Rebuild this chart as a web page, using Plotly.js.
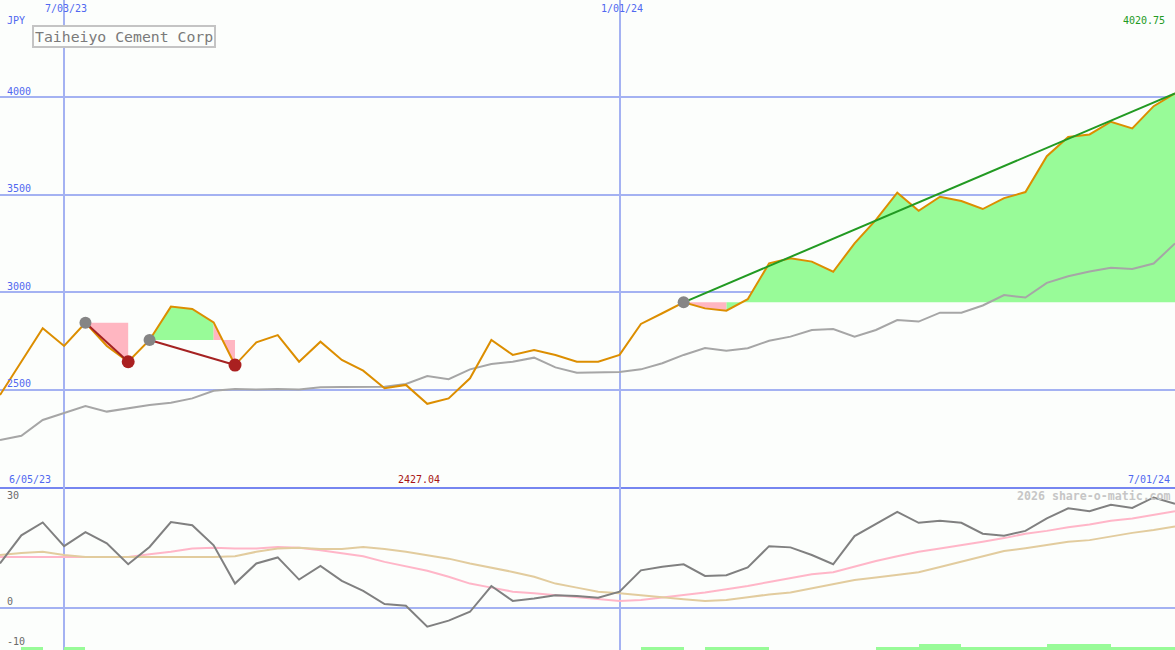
<!DOCTYPE html>
<html><head><meta charset="utf-8">
<script src="https://cdn.plot.ly/plotly-3.0.1.min.js"></script>
<style>html,body{margin:0;padding:0;background:#fcfefc;} #chart{width:1175px;height:650px;}</style>
</head><body><div id="chart"></div>
<script>
// ---------- data ----------
const dates = ['2023-06-12','2023-06-19','2023-06-26','2023-07-03','2023-07-10','2023-07-17','2023-07-24','2023-07-31',
 '2023-08-07','2023-08-14','2023-08-21','2023-08-28','2023-09-04','2023-09-11','2023-09-18','2023-09-25',
 '2023-10-02','2023-10-09','2023-10-16','2023-10-23','2023-10-30','2023-11-06','2023-11-13','2023-11-20','2023-11-27',
 '2023-12-04','2023-12-11','2023-12-18','2023-12-25','2024-01-01','2024-01-08','2024-01-15','2024-01-22','2024-01-29',
 '2024-02-05','2024-02-12','2024-02-19','2024-02-26','2024-03-04','2024-03-11','2024-03-18','2024-03-25',
 '2024-04-01','2024-04-08','2024-04-15','2024-04-22','2024-04-29','2024-05-06','2024-05-13','2024-05-20','2024-05-27',
 '2024-06-03','2024-06-10','2024-06-17','2024-06-24','2024-07-01'];
const price = [2472,2643,2815,2724,2843,2724,2643,2755,2926,2914,2845,2626,2743,2780,2643,2746,2652,2597,2507,2524,
 2427.04,2455,2558,2755,2678,2703,2678,2643,2643,2678,2837,2892,2948,2917,2905,2964,3148,3174,3157,3105,
 3251,3371,3511,3418,3490,3468,3427,3483,3514,3698,3797,3810,3875,3841,3955,4020.75];
const priceAvg = [2241,2263,2344,2381,2416,2387,2404,2421,2433,2455,2494,2503,2500,2503,2500,2512,2513,2513,2515,2529,
 2570,2553,2604,2631,2643,2664,2614,2587,2590,2590,2604,2635,2678,2713,2700,2712,2751,2772,2806,2811,
 2772,2806,2857,2849,2895,2895,2932,2985,2973,3048,3082,3106,3126,3119,3147,3250];
const oscMain = [11.0,18.0,21.2,15.3,18.8,16.0,10.8,15.1,21.3,20.5,15.5,6.0,11.0,12.5,7.0,10.4,6.7,4.2,0.9,0.5,
 -4.7,-3.2,-1.0,5.4,1.7,2.3,3.1,2.9,2.5,4.0,9.3,10.2,10.8,7.9,8.1,10.0,15.3,15.0,13.1,10.8,
 17.8,20.9,23.8,21.1,21.6,21.1,18.4,17.9,19.1,22.2,24.7,24.0,25.6,24.8,27.4,25.8];
const oscPink = [12.6,12.6,12.6,12.6,12.6,12.6,12.6,13.3,13.9,14.7,14.9,14.7,14.7,15.1,14.9,14.3,13.6,12.8,11.4,10.3,
 9.2,7.7,6.0,5.0,4.0,3.6,3.1,2.6,2.2,1.7,1.9,2.5,3.1,3.8,4.6,5.4,6.4,7.3,8.3,8.8,
 10.2,11.6,12.8,13.9,14.7,15.5,16.4,17.3,18.4,19.1,20.0,20.7,21.6,22.2,23.1,24.0];
const oscTan = [13.1,13.6,13.9,13.1,12.6,12.6,12.6,12.6,12.6,12.6,12.6,12.8,13.9,14.7,14.9,14.6,14.6,15.1,14.6,13.9,
 13.0,12.2,11.0,10.0,8.9,7.7,6.0,5.0,4.0,3.6,3.1,2.5,2.1,1.7,1.9,2.6,3.3,3.8,4.8,5.9,
 6.9,7.5,8.1,8.8,10.1,11.4,12.8,14.1,14.8,15.6,16.4,16.8,17.7,18.6,19.3,20.2];
const signalDates = ['2023-06-19','2023-07-03','2024-01-08','2024-01-15','2024-01-29','2024-02-05','2024-02-12',
 '2024-03-25','2024-04-01','2024-04-08','2024-04-15','2024-04-22','2024-04-29','2024-05-06','2024-05-13',
 '2024-05-20','2024-05-27','2024-06-03','2024-06-10','2024-06-17','2024-06-24'];
const signalSize = [0.67,0.67,0.67,0.67,0.67,0.67,0.67,0.67,0.67,1.6,1.6,0.67,0.67,0.67,0.67,1.6,1.6,1.6,0.67,0.67,0.67];
const tradeEntry = ['2023-07-10','2023-07-31','2024-01-22'];
const tradeExit  = ['2023-07-24','2023-08-28',null];
const priceTicks = [2500,3000,3500,4000];
const oscTicks = [30,0,-10];
const dateTicks = ['2023-07-03','2024-01-01'];
const dateTickText = ['7/03/23','1/01/24'];
const chartTitle = 'Taiheiyo Cement Corp';
const currency = 'JPY';
const startLabel = '6/05/23';
const endLabel = '7/01/24';
const credit = '2026 share-o-matic.com';

// ---------- styles ----------
const W = 1175, H = 650;
const BG = '#fcfefc';
const GRID = '#a4b2f2';
const SEP = '#7686f0';
const BLUE = '#5068f0';
const MONO = 'DejaVu Sans Mono, Liberation Mono, monospace';
const OSC_MIN = -10.5, OSC_MAX = 30;
const lowerFrac = 163 / H;
const py = p => 1 - p / H;
const px = p => p / W;

// ---------- trade fills ----------
const fills = {green:{x:[],y:[]}, pink:{x:[],y:[]}};
const closedLine = {x:[],y:[]}, openLine = {x:[],y:[]};
const entryPts = {x:[],y:[]}, exitPts = {x:[],y:[]};
tradeEntry.forEach((ed, t) => {
  const a = dates.indexOf(ed);
  const b = tradeExit[t] ? dates.indexOf(tradeExit[t]) : dates.length - 1;
  const E = price[a];
  let k = a;
  while (k < b) {
    const up = price[k+1] >= E;
    let j = k;
    while (j < b && (price[j+1] >= E) === up) j++;
    const f = up ? fills.green : fills.pink;
    f.x.push(dates[k]); f.y.push(E);
    for (let i = k; i <= j; i++) { f.x.push(dates[i]); f.y.push(price[i]); }
    f.x.push(dates[j]); f.y.push(E);
    f.x.push(null); f.y.push(null);
    k = j;
  }
  entryPts.x.push(dates[a]); entryPts.y.push(E);
  if (tradeExit[t]) {
    closedLine.x.push(dates[a], dates[b], null); closedLine.y.push(E, price[b], null);
    exitPts.x.push(dates[b]); exitPts.y.push(price[b]);
  } else {
    openLine.x.push(dates[a], dates[b]); openLine.y.push(E, price[b]);
  }
});

const WEEK = 7*24*3600*1000;
const traces = [
  {x:fills.green.x, y:fills.green.y, type:'scatter', mode:'lines', fill:'toself', fillcolor:'#98fb98', line:{width:0}, hoverinfo:'skip'},
  {x:fills.pink.x, y:fills.pink.y, type:'scatter', mode:'lines', fill:'toself', fillcolor:'#ffb6c1', line:{width:0}, hoverinfo:'skip'},
  {x:dates, y:priceAvg, type:'scatter', mode:'lines', line:{color:'#a6a6a6', width:2}},
  {x:dates, y:price, type:'scatter', mode:'lines', line:{color:'#dc8e00', width:2}},
  {x:closedLine.x, y:closedLine.y, type:'scatter', mode:'lines', line:{color:'#a52222', width:2}},
  {x:openLine.x, y:openLine.y, type:'scatter', mode:'lines', line:{color:'#229a22', width:2}},
  {x:entryPts.x, y:entryPts.y, type:'scatter', mode:'markers', marker:{color:'#858585', size:12}},
  {x:exitPts.x, y:exitPts.y, type:'scatter', mode:'markers', marker:{color:'#aa2020', size:13}},
  // lower panel
  {x:signalDates, y:signalSize, base:OSC_MIN, type:'bar', yaxis:'y2', width:WEEK, offset:0,
   marker:{color:'#98fb98', line:{width:0}}},
  {x:dates, y:oscPink, type:'scatter', mode:'lines', yaxis:'y2', line:{color:'#ffb6c8', width:2}},
  {x:dates, y:oscTan, type:'scatter', mode:'lines', yaxis:'y2', line:{color:'#e2cc9e', width:2}},
  {x:dates, y:oscMain, type:'scatter', mode:'lines', yaxis:'y2', line:{color:'#808080', width:2}}
];

// ---------- annotations ----------
function txt(text, o) {
  return Object.assign({text, showarrow:false, font:{family:MONO, size:10, color:BLUE}}, o);
}
const ann = [];
ann.push(txt(currency, {xref:'paper', x:px(5), xanchor:'left', yref:'paper', y:py(21), yanchor:'middle'}));
ann.push(txt(chartTitle, {xref:'paper', x:px(32), xanchor:'left', yref:'paper', y:py(24.5), yanchor:'top',
  font:{family:MONO, size:14.8, color:'#7a7a7a'}, bordercolor:'#c4c4c4', borderwidth:2, borderpad:1, bgcolor:BG}));
dateTicks.forEach((d, i) => ann.push(txt(dateTickText[i], {xref:'x', x:d, xanchor:'center', xshift:2,
  yref:'paper', y:py(8.5), yanchor:'middle'})));
priceTicks.forEach(v => ann.push(txt(String(v), {xref:'paper', x:px(5), xanchor:'left', yref:'y', y:v, yanchor:'middle', yshift:6})));
const last = price[price.length-1];
ann.push(txt(last.toFixed(2), {xref:'paper', x:px(1167), xanchor:'right', yref:'paper', y:py(21), yanchor:'middle',
  font:{family:MONO, size:10, color:'#229a22'}}));
let mi = 0; price.forEach((v,i) => { if (v < price[mi]) mi = i; });
ann.push(txt(price[mi].toFixed(2), {xref:'x', x:dates[mi], xanchor:'center', xshift:-8, yref:'paper', y:py(479), yanchor:'middle',
  font:{family:MONO, size:10, color:'#a81414'}}));
ann.push(txt(startLabel, {xref:'paper', x:px(7), xanchor:'left', yref:'paper', y:py(479), yanchor:'middle'}));
ann.push(txt(endLabel, {xref:'paper', x:px(1172), xanchor:'right', yref:'paper', y:py(479), yanchor:'middle'}));
oscTicks.forEach(v => ann.push(txt(String(v), {xref:'paper', x:px(5), xanchor:'left', yref:'y2', y:v, yanchor:'middle',
  yshift: v >= OSC_MAX ? -8 : 6, font:{family:MONO, size:10, color:'#6a6a6a'}})));
ann.push(txt(credit, {xref:'paper', x:px(1173), xanchor:'right', yref:'paper', y:py(496), yanchor:'middle',
  font:{family:MONO, size:11.6, color:'#c6c6c6', weight:'bold'}}));

const layout = {
  width:W, height:H, margin:{l:0,r:0,t:0,b:0,pad:0},
  paper_bgcolor:BG, plot_bgcolor:BG, showlegend:false, hovermode:false,
  xaxis:{type:'date', range:[dates[0], dates[dates.length-1]], tickvals:dateTicks, showticklabels:false, ticks:'',
    showgrid:true, gridcolor:GRID, gridwidth:2, zeroline:false, showline:true, linecolor:SEP, linewidth:2, anchor:'y'},
  yaxis:{domain:[lowerFrac,1], range:[2000,4500], tickvals:priceTicks, showticklabels:false, ticks:'',
    showgrid:true, gridcolor:GRID, gridwidth:2, zeroline:false},
  yaxis2:{domain:[0,lowerFrac], range:[OSC_MIN,OSC_MAX], tickvals:[0], showticklabels:false, ticks:'',
    showgrid:true, gridcolor:GRID, gridwidth:2, zeroline:false, anchor:'x'},
  annotations:ann,
  bargap:0
};
Plotly.newPlot('chart', traces, layout, {staticPlot:true, displayModeBar:false});
</script></body></html>
